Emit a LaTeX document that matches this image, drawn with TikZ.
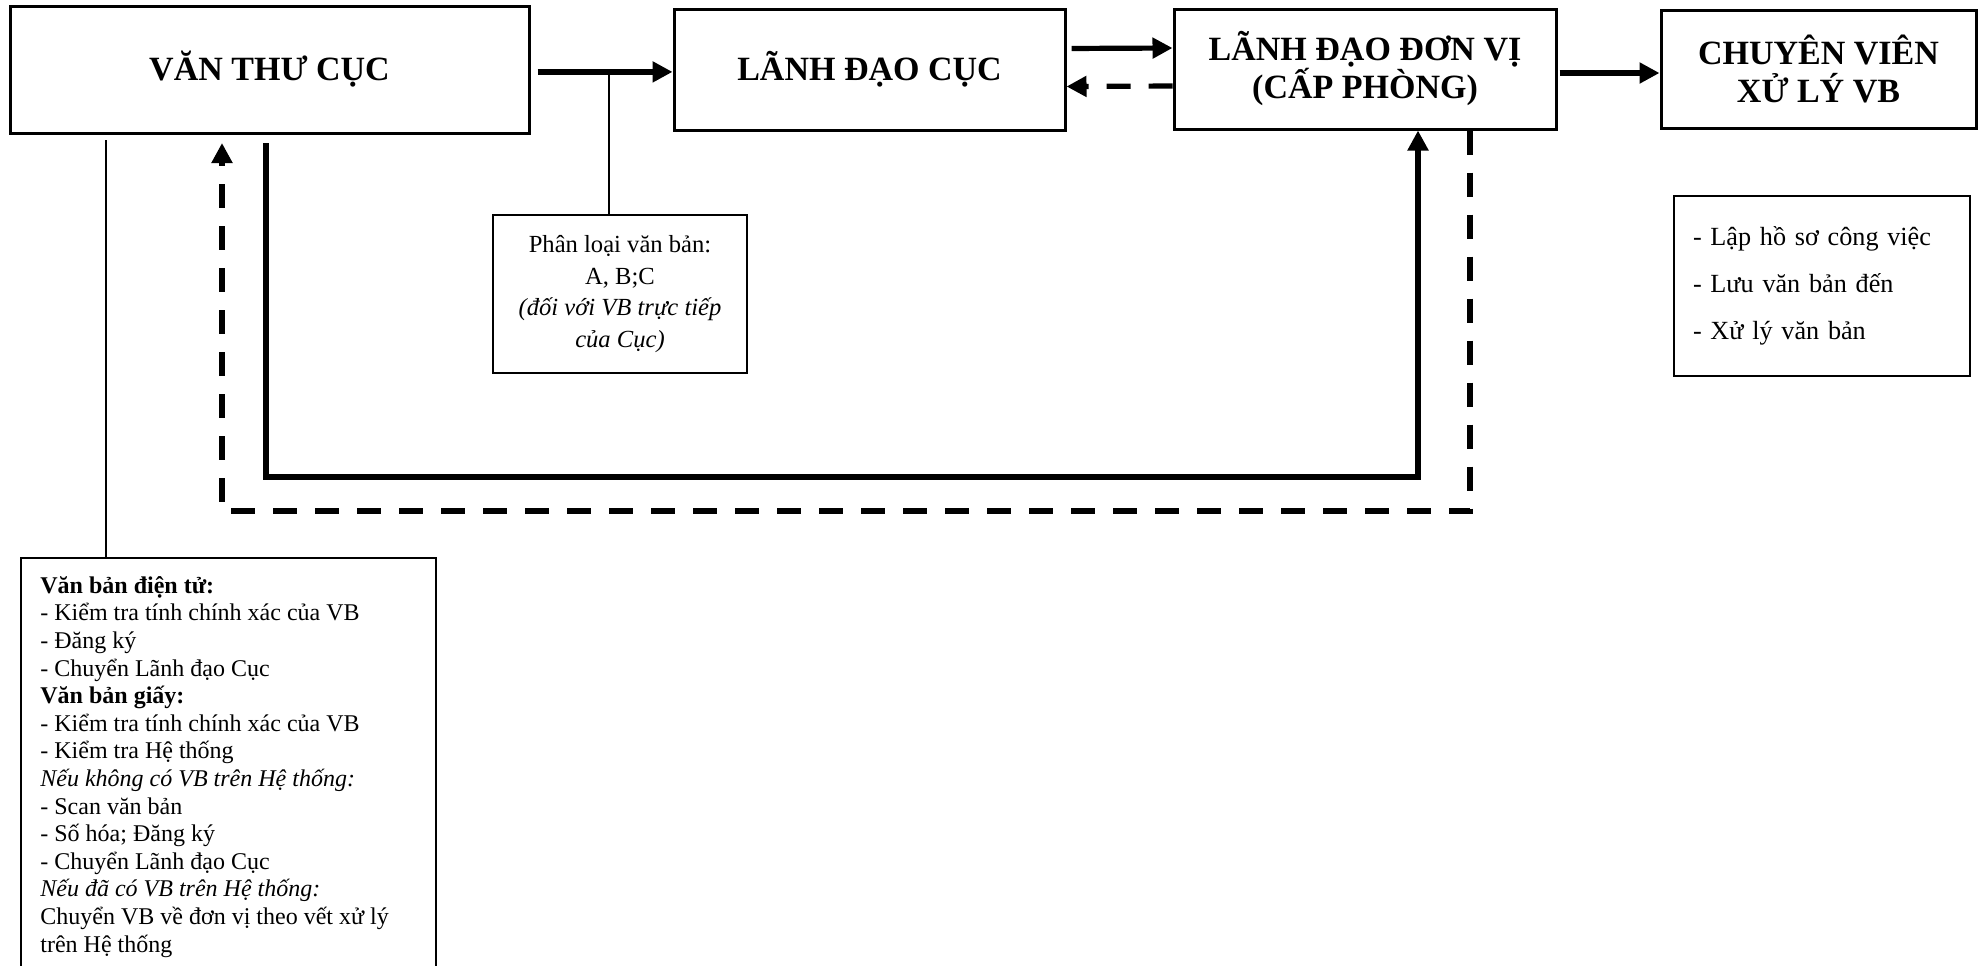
\documentclass[tikz,border=0pt]{standalone}
\usepackage{fontspec}
\setmainfont{Liberation Serif}
\usetikzlibrary{arrows.meta}
\begin{document}
\begin{tikzpicture}[x=0.5pt,y=-0.5pt,
  title/.style={draw, line width=1.5pt, font=\fontsize{17}{19}\selectfont\bfseries, align=center, inner sep=0pt},
  flow/.style={line width=2.6pt, -{Triangle[length=10pt,width=10pt]}},
  back/.style={flow, dash pattern=on 12pt off 9pt},
  thinline/.style={line width=0.8pt},
  note/.style={draw, line width=0.8pt, inner sep=0pt}]
\clip (0,0) rectangle (1984,965);
\fill[white] (0,0) rectangle (1984,965);
% main boxes
\node[title, minimum width=259.5pt, minimum height=63.5pt] (vt) at (269.5,69.5) {VĂN THƯ CỤC};
\node[title, minimum width=195.5pt, minimum height=60.5pt] (ldc) at (869.5,69.5) {LÃNH ĐẠO CỤC};
\node[title, minimum width=191pt, minimum height=60pt] (ldv) at (1365,69) {LÃNH ĐẠO ĐƠN VỊ\\(CẤP PHÒNG)};
\node[title, minimum width=157.5pt, minimum height=59pt] (cv) at (1818.5,69) {CHUYÊN VIÊN\\XỬ LÝ VB};
% notes
\node[note, minimum width=127pt, minimum height=79pt, align=center, font=\fontsize{12.3}{15.8}\selectfont] (pl) at (620,294)
  {Phân loại văn bản:\\A, B;C\\\textit{(đối với VB trực tiếp}\\\textit{của Cục)}};
\node[draw, line width=1pt, minimum width=148pt, minimum height=90pt, align=left, text width=129pt, inner xsep=9.5pt, inner ysep=0pt, font=\fontsize{13.1}{23.5}\selectfont] (task) at (1822,286)
  {\raisebox{-1.5pt}{- Lập hồ sơ công việc}\\\raisebox{-1.5pt}{- Lưu văn bản đến}\\\raisebox{-1.5pt}{- Xử lý văn bản}};
\node[note, anchor=north west, minimum width=207.5pt, minimum height=250pt] (bigbox) at (20,557) {};
\node[anchor=north west, inner sep=0pt, align=left, font=\fontsize{12}{13.8}\selectfont] (bigtext) at (40,576)
  {\textbf{Văn bản điện tử:}\\
   - Kiểm tra tính chính xác của VB\\
   - Đăng ký\\
   - Chuyển Lãnh đạo Cục\\
   \textbf{Văn bản giấy:}\\
   - Kiểm tra tính chính xác của VB\\
   - Kiểm tra Hệ thống\\
   \textit{Nếu không có VB trên Hệ thống:}\\
   - Scan văn bản\\
   - Số hóa; Đăng ký\\
   - Chuyển Lãnh đạo Cục\\
   \textit{Nếu đã có VB trên Hệ thống:}\\
   Chuyển VB về đơn vị theo vết xử lý\\
   trên Hệ thống};
% connectors along the top
\draw[flow, shorten <=3.5pt] ([yshift=-1.2pt]vt.east) -- ([yshift=-1.2pt]ldc.west);
\draw[flow, shorten <=2.5pt] ([yshift=10.5pt]ldc.east) -- ([yshift=10.5pt]ldv.west);
\draw[back] ([yshift=-8.5pt]ldv.west) -- ([yshift=-8.5pt]ldc.east);
\draw[flow, shorten <=1pt] ([yshift=-2pt]ldv.east) -- ([yshift=-2pt]cv.west);
% thin link to classification note
\coordinate (j) at (609,72);
\draw[thinline] (j) -- (j |- pl.north);
% solid loop VT -> LDV
\coordinate (s0) at (266,143);
\coordinate (s1) at (266,477);
\coordinate (s2) at (1418,477);
\draw[flow] (s0) -- (s1) -- (s2) -- (s2 |- ldv.south);
% dashed loop LDV -> VT
\coordinate (d1) at (1470,511);
\coordinate (d2) at (222,511);
\coordinate (d3) at (222,143);
\draw[back] (ldv.south -| d1) -- (d1) -- (d2) -- (d3);
% thin link to big box
\coordinate (t0) at (106,140);
\draw[thinline] (t0) -- (t0 |- bigbox.north);
\end{tikzpicture}
\end{document}
